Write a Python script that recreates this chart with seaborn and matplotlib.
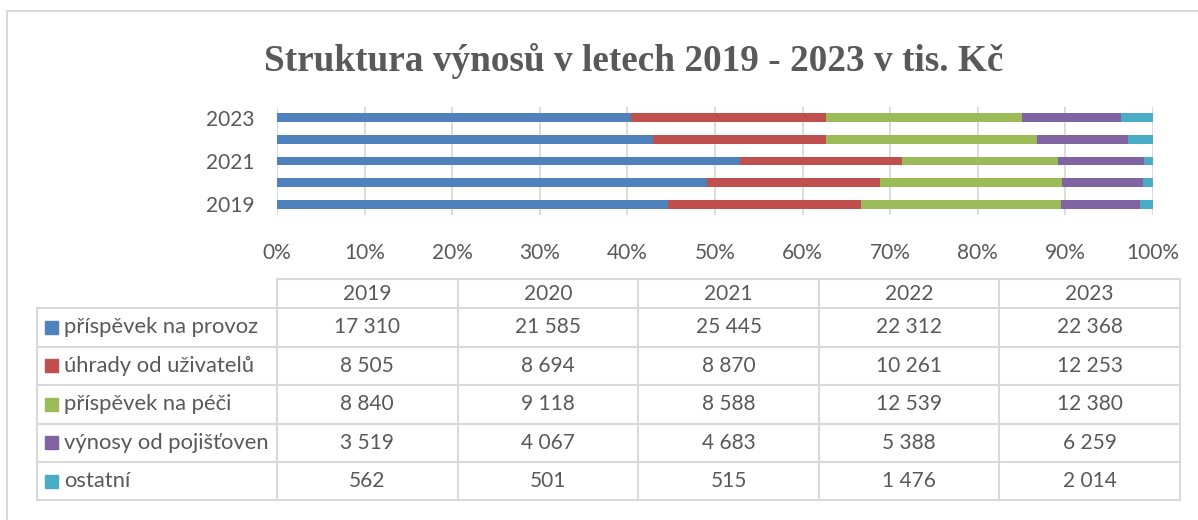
import matplotlib
matplotlib.use("Agg")
import matplotlib.pyplot as plt
from matplotlib.patches import Rectangle
import pandas as pd
import seaborn as sns

years = ["2019", "2020", "2021", "2022", "2023"]
series = ["příspěvek na provoz", "úhrady od uživatelů", "příspěvek na péči",
          "výnosy od pojišťoven", "ostatní"]
provoz = [17310, 21585, 25445, 22312, 22368]
uhrady = [8505, 8694, 8870, 10261, 12253]
peci = [8840, 9118, 8588, 12539, 12380]
pojistovny = [3519, 4067, 4683, 5388, 6259]
ostatni = [562, 501, 515, 1476, 2014]
colors = ["#4F81BD", "#C0504D", "#9BBB59", "#8064A2", "#4BACC6"]
ytick_labels = ["2023", "", "2021", "", "2019"]
title = "Struktura výnosů v letech 2019 - 2023 v tis. Kč"

sns.set_theme(style="white")
plt.rcParams["font.family"] = ["Lato", "DejaVu Sans"]
grey = "#595959"
line = "#D9D9D9"

df = pd.DataFrame(dict(zip(series, [provoz, uhrady, peci, pojistovny, ostatni])), index=years)
share = df.div(df.sum(axis=1), axis=0) * 100
cum = share.cumsum(axis=1)

W, H = 1198, 520
fig = plt.figure(figsize=(W / 100, H / 100), dpi=100)

# overlay in pixel coords for frame, title and data table
bg = fig.add_axes([0, 0, 1, 1])
bg.set_xlim(0, W)
bg.set_ylim(H, 0)
bg.axis("off")

ax = fig.add_axes([277 / W, 1 - 215 / H, 876 / W, 108 / H])
order = years[::-1]
# stacked bars: draw cumulative totals from widest to narrowest
for name, c in reversed(list(zip(series, colors))):
    sns.barplot(x=cum[name].values, y=years, order=order, orient="h", color=c,
                saturation=1, width=0.4, errorbar=None, linewidth=0, ax=ax, zorder=3)
ax.set_xlim(0, 100)
ax.set_ylim(4.5, -0.5)
ax.set_xticks(range(0, 101, 10))
ax.set_xticklabels([f"{t}%" for t in range(0, 101, 10)])
ax.set_yticks(range(5))
ax.set_yticklabels(ytick_labels)
ax.set_xlabel("")
ax.set_ylabel("")
ax.grid(axis="x", color=line, lw=1.3)
ax.grid(axis="y", visible=False)
ax.set_axisbelow(True)
sns.despine(ax=ax, left=True, bottom=True)
ax.tick_params(axis="both", length=0, labelsize=15, colors=grey)
ax.tick_params(axis="y", pad=16)
ax.tick_params(axis="x", pad=20)

# frame and title
bg.plot([7, 7, W], [H, 11, 11], color=line, lw=1.5)
bg.text(634, 61, title, ha="center", va="center", fontsize=26.8, fontweight="bold",
        family="Liberation Serif", color=grey)

# data table
col_edges = [277, 457.6, 638.2, 818.8, 999.4, 1180]
row_edges = [279, 308, 346.5, 385, 423.5, 462, 500]
bg.plot([277, 1180], [row_edges[0]] * 2, color=line, lw=1.5)
for y in row_edges[1:]:
    bg.plot([37, 1180], [y, y], color=line, lw=1.5)
bg.plot([37, 37], [row_edges[1], row_edges[-1]], color=line, lw=1.5)
for x in col_edges:
    bg.plot([x, x], [row_edges[0], row_edges[-1]], color=line, lw=1.5)

for j, yr in enumerate(years):
    xc = (col_edges[j] + col_edges[j + 1]) / 2
    bg.text(xc, (row_edges[0] + row_edges[1]) / 2 + 1, yr, ha="center", va="center",
            fontsize=15, color=grey)
for i, (name, c) in enumerate(zip(series, colors)):
    yc = (row_edges[i + 1] + row_edges[i + 2]) / 2
    bg.add_patch(Rectangle((45, yc - 6.5), 13, 13, color=c))
    bg.text(64, yc, name, ha="left", va="center", fontsize=15.8, color=grey)
    for j in range(len(years)):
        xc = (col_edges[j] + col_edges[j + 1]) / 2
        v = int(df.iloc[j, i])
        bg.text(xc, yc, f"{v:,}".replace(",", " "), ha="center", va="center",
                fontsize=15, color=grey)

fig.savefig("out.png", dpi=100)
